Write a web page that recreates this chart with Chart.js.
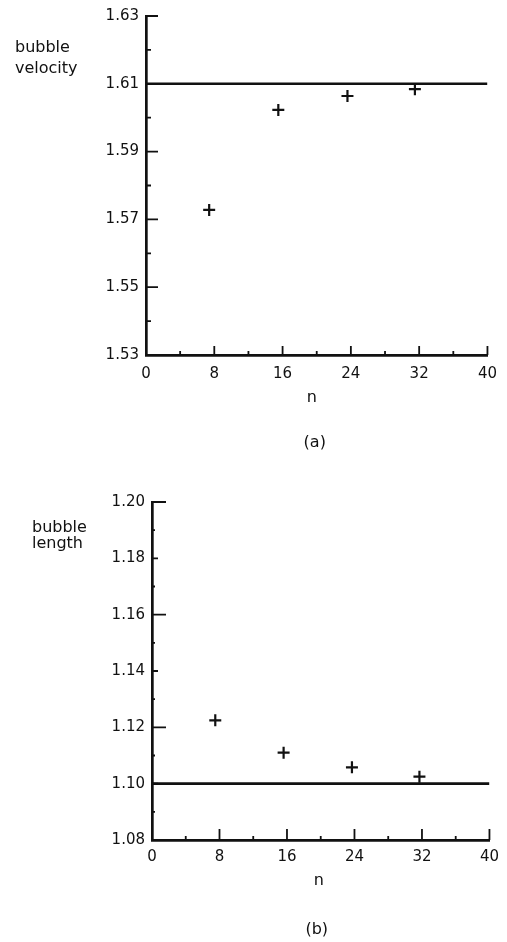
<!DOCTYPE html>
<html>
<head>
<meta charset="utf-8">
<title>Bubble velocity and bubble length versus n</title>
<script src="https://cdn.jsdelivr.net/npm/chart.js@4.4.1/dist/chart.umd.min.js"></script>
<style>
  html, body { margin: 0; padding: 0; background: #fff; }
  #wrap { position: relative; width: 507px; height: 942px; }
  canvas { position: absolute; left: 0; }
</style>
</head>
<body>
<div id="wrap">
  <canvas id="velocityChart" width="507" height="470" style="top:0"></canvas>
  <canvas id="lengthChart" width="507" height="472" style="top:470px"></canvas>
</div>
<script>
// ---- data -------------------------------------------------------------
const nVelocity = [7.4, 15.5, 23.6, 31.5];
const velocity = [1.5728, 1.6023, 1.6064, 1.6084];
const velocityLimit = 1.61;

const nLength = [7.5, 15.6, 23.7, 31.7];
const bubbleLength = [1.1225, 1.1110, 1.1058, 1.1025];
const lengthLimit = 1.10;

const nRange = [0, 40];
const nTicks = [0, 8, 16, 24, 32, 40];
const nMinorTicks = [4, 12, 20, 28, 36];

const velocityTicks = [1.53, 1.55, 1.57, 1.59, 1.61, 1.63];
const velocityMinorTicks = [1.54, 1.56, 1.58, 1.60, 1.62];

const lengthTicks = [1.08, 1.10, 1.12, 1.14, 1.16, 1.18, 1.20];
const lengthLongTicks = [1.12, 1.16, 1.20];
const lengthMidTicks = [1.10, 1.14, 1.18];
const lengthSmallTicks = [1.09, 1.11, 1.13, 1.15, 1.17, 1.19];

// ---- styling ----------------------------------------------------------
const INK = '#111';
const FONT = '"DejaVu Sans", "Liberation Sans", sans-serif';

// Inward tick marks plus the axis captions, drawn on top of the chart.
const paperAxes = {
  id: 'paperAxes',
  afterDraw(chart, args, opts) {
    const ctx = chart.ctx;
    const xs = chart.scales.x, ys = chart.scales.y;
    const { left, right, bottom } = chart.chartArea;
    ctx.save();
    ctx.strokeStyle = INK;
    ctx.lineWidth = 1.8;
    ctx.beginPath();
    opts.yMarks.forEach(([vals, len]) => vals.forEach(v => {
      const py = ys.getPixelForValue(v);
      ctx.moveTo(left, py); ctx.lineTo(left + len, py);
    }));
    opts.xMarks.forEach(([vals, len]) => vals.forEach(v => {
      const px = xs.getPixelForValue(v);
      ctx.moveTo(px, bottom); ctx.lineTo(px, bottom - len);
    }));
    ctx.stroke();

    ctx.fillStyle = INK;
    ctx.font = '16px ' + FONT;
    ctx.textAlign = 'left';
    ctx.textBaseline = 'alphabetic';
    opts.yTitle.lines.forEach((t, i) =>
      ctx.fillText(t, opts.yTitle.x, opts.yTitle.y + i * opts.yTitle.gap));

    const cx = (left + right) / 2;
    ctx.textAlign = 'center';
    ctx.fillText('n', cx + opts.nLabel.dx, bottom + opts.nLabel.dy);
    ctx.textBaseline = 'middle';
    ctx.fillText(opts.caption.text, cx + opts.caption.dx, bottom + opts.caption.dy);
    ctx.restore();
  }
};

function makeChart(id, cfg) {
  const ticksFromList = list => scale => { scale.ticks = list.map(v => ({ value: v })); };
  return new Chart(document.getElementById(id), {
    type: 'scatter',
    data: {
      datasets: [
        {
          data: cfg.xs.map((x, i) => ({ x, y: cfg.ys[i] })),
          pointStyle: 'cross',
          pointRadius: 6,
          pointHoverRadius: 6,
          borderColor: INK,
          borderWidth: 2.2,
          showLine: false
        },
        {
          data: nRange.map(x => ({ x, y: cfg.limit })),
          showLine: true,
          borderColor: INK,
          borderWidth: 2.6,
          pointRadius: 0
        }
      ]
    },
    options: {
      responsive: false,
      animation: false,
      events: [],
      layout: { padding: { top: cfg.area.top, right: 507 - cfg.area.right, left: 0, bottom: 0 } },
      plugins: {
        legend: { display: false },
        tooltip: { enabled: false },
        paperAxes: cfg.marks
      },
      scales: {
        x: {
          type: 'linear',
          min: nRange[0], max: nRange[1],
          afterBuildTicks: ticksFromList(nTicks),
          afterFit: s => { s.height = cfg.height - cfg.area.bottom; },
          grid: { display: false, drawTicks: false },
          border: { display: true, color: INK, width: 2.7 },
          ticks: { color: INK, font: { family: FONT, size: 15 }, padding: cfg.xPad, maxRotation: 0, autoSkip: false }
        },
        y: {
          type: 'linear',
          min: cfg.yMin, max: cfg.yMax,
          afterBuildTicks: ticksFromList(cfg.yTicks),
          afterFit: s => { s.width = cfg.area.left; },
          grid: { display: false, drawTicks: false },
          border: { display: true, color: INK, width: 2.7 },
          ticks: { color: INK, font: { family: FONT, size: 15 }, padding: 7, autoSkip: false,
                   callback: v => v.toFixed(2) }
        }
      }
    },
    plugins: [paperAxes]
  });
}

makeChart('velocityChart', {
  xs: nVelocity, ys: velocity, limit: velocityLimit,
  yMin: 1.53, yMax: 1.63, yTicks: velocityTicks,
  height: 470, area: { left: 146, right: 490, top: 16, bottom: 355 }, xPad: 10,
  marks: {
    yMarks: [[velocityTicks, 12], [velocityMinorTicks, 5]],
    xMarks: [[nTicks.slice(1), 9], [nMinorTicks, 4]],
    yTitle: { lines: ['bubble', 'velocity'], x: 15, y: 52, gap: 21 },
    nLabel: { dx: -5, dy: 47 },
    caption: { text: '(a)', dx: -2, dy: 88 }
  }
});

makeChart('lengthChart', {
  xs: nLength, ys: bubbleLength, limit: lengthLimit,
  yMin: 1.08, yMax: 1.20, yTicks: lengthTicks,
  height: 472, area: { left: 152, right: 493, top: 32, bottom: 370 }, xPad: 8,
  marks: {
    yMarks: [[lengthLongTicks, 14], [lengthMidTicks, 6], [lengthSmallTicks, 3]],
    xMarks: [[nTicks.slice(1), 11], [nMinorTicks, 4]],
    yTitle: { lines: ['bubble', 'length'], x: 32, y: 62, gap: 16 },
    nLabel: { dx: -2, dy: 45 },
    caption: { text: '(b)', dx: -4, dy: 90 }
  }
});
</script>
</body>
</html>
